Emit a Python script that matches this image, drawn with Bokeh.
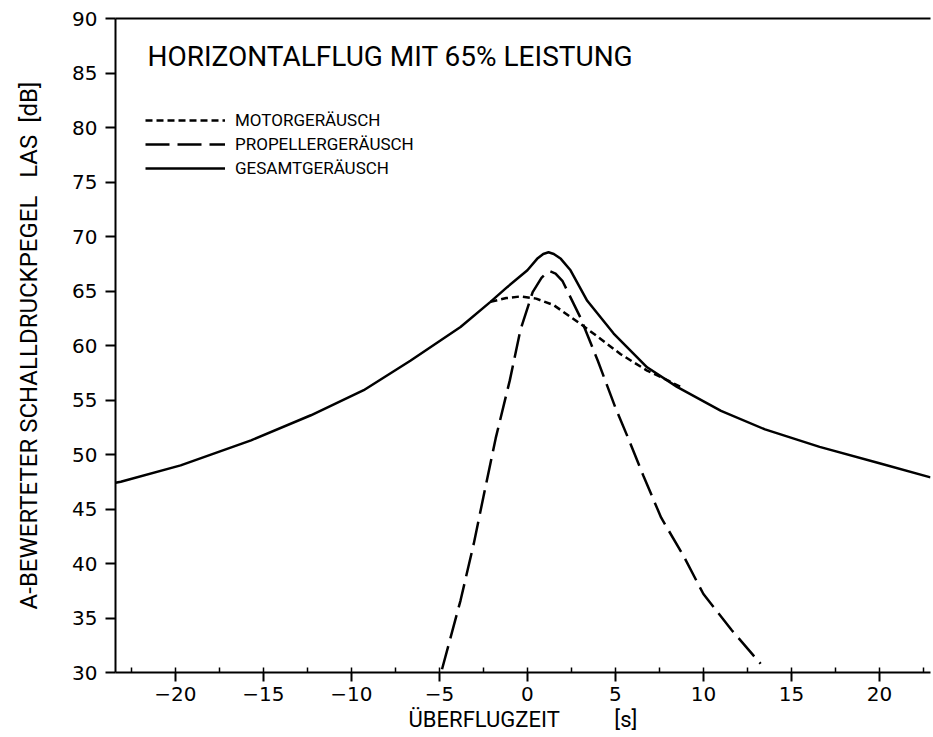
import math
from bokeh.plotting import figure
from bokeh.models import Range1d, Label, Legend, LegendItem, LinearAxis, SingleIntervalTicker, FixedTicker
from bokeh.embed import file_html
from bokeh.resources import INLINE

# ---- data ----
total_t = [-23.4, -23.1, -19.7, -15.7, -12.3, -9.3, -6.65, -3.8, -2.1, -1.15, 0.0, 0.55, 0.9, 1.2, 1.5, 1.9, 2.45, 3.4, 4.9, 6.8, 8.5, 11.0, 13.5, 16.6, 20.0, 22.9]
total_db = [47.4, 47.5, 49.0, 51.3, 53.6, 55.9, 58.6, 61.7, 64.0, 65.35, 66.9, 67.95, 68.4, 68.55, 68.4, 67.95, 66.9, 64.1, 61.1, 58.0, 56.2, 54.0, 52.3, 50.7, 49.2, 47.9]

motor_t = [-2.1, -1.2, -0.4, 0.5, 1.5, 3.0, 4.0, 5.3, 6.8, 7.6, 8.7]
motor_db = [64.0, 64.35, 64.5, 64.3, 63.7, 62.0, 60.8, 59.2, 57.7, 57.1, 56.2]

prop_t = [-4.85, -3.8, -3.05, -2.5, -1.8, -1.0, -0.4, 0.3, 0.8, 1.05, 1.3, 1.6, 2.0, 3.0, 4.0, 5.0, 5.7, 6.6, 7.6, 8.9, 10.0, 11.6, 13.25]
prop_db = [30.3, 36.6, 41.8, 46.1, 51.5, 56.8, 61.4, 64.9, 66.2, 66.6, 66.8, 66.6, 65.9, 62.6, 58.6, 54.3, 51.6, 48.0, 44.2, 40.6, 37.2, 33.9, 30.8]

labels = ["MOTORGERÄUSCH", "PROPELLERGERÄUSCH", "GESAMTGERÄUSCH"]
title_text = "HORIZONTALFLUG MIT 65% LEISTUNG"
NB = "\u00a0"
x_label = "ÜBERFLUGZEIT" + NB * 10 + "[s]"
y_label = "A-BEWERTETER SCHALLDRUCKPEGEL" + NB * 3 + "LAS" + NB * 2 + "[dB]"

TEXTF = "Roboto"
TICKF = "DejaVu Sans"

p = figure(width=933, height=737, x_range=Range1d(-23.4, 22.9), y_range=Range1d(30, 90),
           output_backend="svg", toolbar_location=None,
           min_border_left=115, min_border_right=3, min_border_top=18, min_border_bottom=65)
p.grid.visible = False
p.outline_line_color = None

# x axis
xa = p.xaxis[0]
xa.ticker = SingleIntervalTicker(interval=5, num_minor_ticks=2)
xa.major_tick_in = 0
xa.major_tick_out = 9
xa.minor_tick_in = 5
xa.minor_tick_out = 0
xa.axis_line_width = 2
xa.major_tick_line_width = 2
xa.minor_tick_line_width = 1.5
xa.major_label_text_font = TICKF
xa.major_label_text_font_size = "20px"
xa.major_label_text_color = "black"
xa.major_label_standoff = 5
xa.axis_label = x_label
xa.axis_label_text_font = TEXTF
xa.axis_label_text_font_size = "22px"
xa.axis_label_text_font_style = "normal"
xa.axis_label_text_color = "black"
xa.axis_label_standoff = 3

# y axis
ya = p.yaxis[0]
ya.ticker = SingleIntervalTicker(interval=5, num_minor_ticks=0)
ya.major_tick_in = 0
ya.major_tick_out = 10
ya.minor_tick_line_color = None
ya.axis_line_width = 2
ya.major_tick_line_width = 2
ya.major_label_text_font = TICKF
ya.major_label_text_font_size = "20px"
ya.major_label_text_color = "black"
ya.major_label_standoff = 8
ya.axis_label = y_label
ya.axis_label_text_font = TEXTF
ya.axis_label_text_font_size = "24px"
ya.axis_label_text_font_style = "normal"
ya.axis_label_text_color = "black"
ya.axis_label_standoff = 26

# top frame line (no ticks, no labels)
top = LinearAxis(ticker=FixedTicker(ticks=[]), major_tick_line_color=None,
                 minor_tick_line_color=None, axis_line_width=2)
p.add_layout(top, "above")

r_total = p.line(total_t, total_db, line_color="black", line_width=2.5, line_join="round")
r_motor = p.line(motor_t, motor_db, line_color="black", line_width=2.5, line_dash="7 4")
r_prop = p.line(prop_t, prop_db, line_color="black", line_width=2.5, line_dash="24 8")

legend = Legend(items=[LegendItem(label=labels[0], renderers=[r_motor]),
                       LegendItem(label=labels[1], renderers=[r_prop]),
                       LegendItem(label=labels[2], renderers=[r_total])],
                location=(30, 494), glyph_width=80, glyph_height=20, label_height=20,
                spacing=4, padding=0, margin=0, border_line_color=None,
                background_fill_alpha=0, label_text_font=TEXTF,
                label_text_font_size="17px", label_text_color="black", label_standoff=10)
p.add_layout(legend)

# title inside plot
p.add_layout(Label(x=32, y=616, x_units="screen", y_units="screen", text=title_text,
                   text_font=TEXTF, text_font_size="28px", text_align="left",
                   text_baseline="middle", text_color="black"))

open("out.html", "w").write(file_html(p, INLINE))
